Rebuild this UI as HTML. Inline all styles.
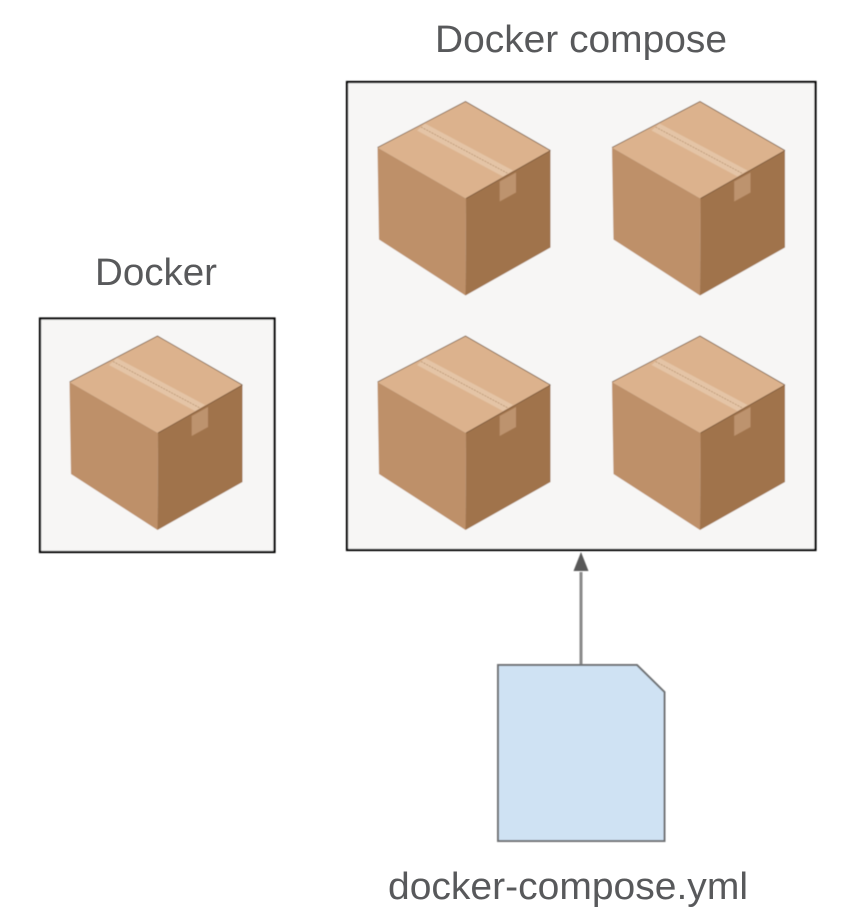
<!DOCTYPE html>
<html><head><meta charset="utf-8"><style>
html,body{margin:0;padding:0;background:#fff;width:850px;height:914px;overflow:hidden}
svg{display:block}
text{font-family:"Liberation Sans",Arial,sans-serif;font-size:38px;fill:#58595b}
</style></head><body>
<svg width="850" height="914" viewBox="0 0 850 914" xmlns="http://www.w3.org/2000/svg">
<defs>
<filter id="b" x="-5%" y="-5%" width="110%" height="110%"><feGaussianBlur stdDeviation="0.6"/></filter>
<g id="box">
<polygon points="157.500,336 69.500,382 158,433 242.500,385" fill="#dcb28d"/>
<polygon points="69.500,382 158,433 157.500,530 71,474" fill="#be9069"/>
<polygon points="158,433 242.500,385 242.500,482 157.500,530" fill="#a0734c"/>
<polygon points="109,365 117,358 205,405 195,411" fill="#e4c4a6"/>
<line x1="113" y1="361.500" x2="200" y2="408" stroke="#b89472" stroke-width="0.800" stroke-dasharray="2 1"/>
<polygon points="191.700,416 208,407 208,427 191.700,436" fill="#bd936e"/>
<polyline points="69.500,382 157.500,336 242.500,385" fill="none" stroke="#7a5c42" stroke-width="0.800"/>
<polyline points="158,433 242.500,385" fill="none" stroke="#7a5638" stroke-width="0.800"/>
</g>
</defs>
<g filter="url(#b)">
<rect x="40" y="318.500" width="234.500" height="233.500" fill="#f7f6f5" stroke="#000" stroke-width="2.200"/>
<rect x="347" y="82" width="468.500" height="468" fill="#f7f6f5" stroke="#000" stroke-width="2.200"/>
<use href="#box"/>
<use href="#box" transform="translate(308,-234.500)"/>
<use href="#box" transform="translate(542.500,-234.500)"/>
<use href="#box" transform="translate(308,0)"/>
<use href="#box" transform="translate(542.500,0)"/>
<line x1="581" y1="572" x2="581" y2="665" stroke="#8a8a8a" stroke-width="3"/>
<polygon points="581,552 573.500,571 588.500,571" fill="#595959"/>
<polygon points="498,665 637,665 664.500,692 664.500,841 498,841" fill="#cfe2f3" stroke="#6f7275" stroke-width="2"/>
</g>
<text x="435" y="52" textLength="292" lengthAdjust="spacingAndGlyphs">Docker compose</text>
<text x="95" y="285" textLength="122" lengthAdjust="spacingAndGlyphs">Docker</text>
<text x="388" y="899" textLength="360" lengthAdjust="spacingAndGlyphs">docker-compose.yml</text>
</svg>
</body></html>
